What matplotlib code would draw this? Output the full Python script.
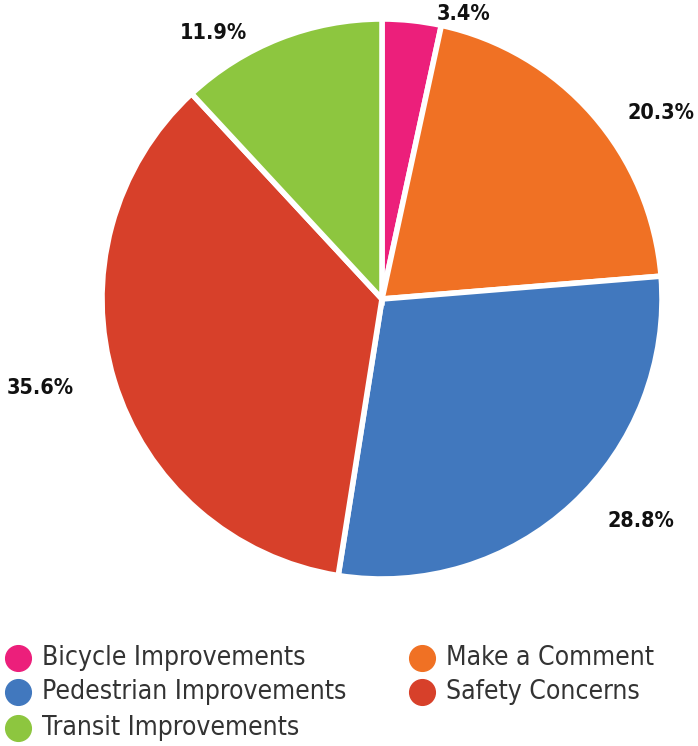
import numpy as np
import matplotlib
matplotlib.use("Agg")
import matplotlib.pyplot as plt
from matplotlib.lines import Line2D

plt.rcParams['font.family'] = ['DejaVu Sans']

categories = ["Bicycle Improvements", "Make a Comment", "Pedestrian Improvements",
              "Safety Concerns", "Transit Improvements"]
values = [3.4, 20.3, 28.8, 35.6, 11.9]
colors = ["#EC1F7B", "#F07124", "#4178BE", "#D7402A", "#8DC63F"]
labels = ["3.4%", "20.3%", "28.8%", "35.6%", "11.9%"]

W, H = 698, 746
fig = plt.figure(figsize=(W / 100, H / 100), dpi=100)

cx, cy, R = 382, 299, 280
ax = fig.add_axes([(cx - R) / W, 1 - (cy + R) / H, 2 * R / W, 2 * R / H])
wedges, _ = ax.pie(values, colors=colors, startangle=90, counterclock=False,
                   radius=1.0, wedgeprops=dict(edgecolor="white", linewidth=4))
ax.set_xlim(-1, 1)
ax.set_ylim(-1, 1)
ax.set_aspect('equal')
ax.axis('off')

# label placement (pixel nudges right/down, Highcharts-like)
nudges = [(22, 23), (12, 18), (15, -5), (-12, -1), (-22, 23)]
total = sum(values)
cum = 0
for v, lab, (nx, ny) in zip(values, labels, nudges):
    mid = np.deg2rad(90 - (cum + v / 2) / total * 360)
    cum += v
    r = 1.107
    x, y = r * np.cos(mid), r * np.sin(mid)
    ha = 'left' if np.cos(mid) >= 0 else 'right'
    ax.annotate(lab, (x, y), xytext=(nx * 0.72, -ny * 0.72), textcoords='offset points',
                ha=ha, va='center', fontsize=15.5, fontweight='semibold', fontstretch='condensed',
                color='#111111', annotation_clip=False)

# legend
col_x = [18, 422]
row_y = [658, 692, 728]
for i, (cat, col) in enumerate(zip(categories, colors)):
    r_, c_ = divmod(i, 2)
    x = col_x[c_]
    y = row_y[r_]
    fig.add_artist(Line2D([x / W], [1 - y / H], marker='o', markersize=18.5,
                          markerfacecolor=col, markeredgecolor=col, linestyle='None'))
    fig.text((x + 24) / W, 1 - y / H, cat, ha='left', va='center',
             fontsize=19, fontstretch='condensed', color='#333333')

fig.savefig("out.png", dpi=100)
